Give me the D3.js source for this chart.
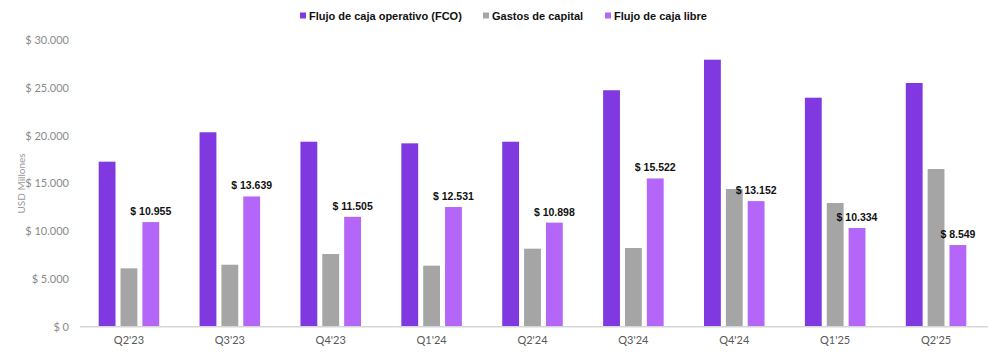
<!DOCTYPE html>
<html>
<head>
<meta charset="utf-8">
<script src="https://cdn.jsdelivr.net/npm/d3@7"></script>
<style>
  body { margin: 0; background: #fff; }
</style>
</head>
<body>
<svg id="chart" width="1000" height="354"></svg>
<script>
var quarters = ["Q2'23", "Q3'23", "Q4'23", "Q1'24", "Q2'24", "Q3'24", "Q4'24", "Q1'25", "Q2'25"];
var fco   = [17280, 20360, 19370, 19200, 19370, 24760, 27960, 23980, 25520];
var capex = [6110, 6490, 7610, 6390, 8170, 8240, 14420, 12950, 16510];
var fcf   = [10955, 13639, 11505, 12531, 10898, 15522, 13152, 10334, 8549];
var yTicks = [0, 5000, 10000, 15000, 20000, 25000, 30000];

var series = [
  {name: "Flujo de caja operativo (FCO)", values: fco, color: "#8038E0"},
  {name: "Gastos de capital", values: capex, color: "#A5A5A5"},
  {name: "Flujo de caja libre", values: fcf, color: "#B366F7"}
];

var svg = d3.select("#chart");
var fmt = d3.formatLocale({decimal: ",", thousands: ".", grouping: [3], currency: ["$ ", ""]}).format("$,.0f");

var x0 = d3.scaleBand().domain(quarters).range([78.5, 986.5]).paddingInner(0.4).paddingOuter(0.2);
var x1 = d3.scaleBand().domain(series.map(s => s.name)).range([0, x0.bandwidth()]).paddingInner(0.23);
var y = d3.scaleLinear().domain([0, 30000]).range([326.7, 40.2]);

// y ticks
svg.append("g").selectAll("text").data(yTicks).enter().append("text")
  .attr("x", 69).attr("y", d => y(d)).attr("dy", "0.35em")
  .attr("text-anchor", "end")
  .attr("font-family", "Lato, 'Open Sans', sans-serif").attr("font-size", 11)
  .attr("fill", "#8a8a8a")
  .text(d => fmt(d));

svg.append("text")
  .attr("transform", "translate(25," + y(15000) + ") rotate(-90)")
  .attr("text-anchor", "middle")
  .attr("font-family", "Lato, 'Open Sans', sans-serif").attr("font-size", 10)
  .attr("fill", "#9a9a9a")
  .text("USD Millones");

// bars
var groups = svg.append("g").selectAll("g").data(quarters).enter().append("g")
  .attr("transform", d => "translate(" + x0(d) + ",0)");

groups.selectAll("rect").data((d, i) => series.map(s => ({s: s, v: s.values[i]})))
  .enter().append("rect")
  .attr("x", d => x1(d.s.name))
  .attr("width", x1.bandwidth())
  .attr("y", d => y(d.v))
  .attr("height", d => y(0) - y(d.v))
  .attr("fill", d => d.s.color);

// axis line
svg.append("line")
  .attr("x1", 80).attr("x2", 988).attr("y1", y(0)).attr("y2", y(0))
  .attr("stroke", "#d6d6d6").attr("stroke-width", 1.5);

// x labels
svg.append("g").selectAll("text").data(quarters).enter().append("text")
  .attr("x", d => x0(d) + x0.bandwidth() / 2).attr("y", 344)
  .attr("text-anchor", "middle")
  .attr("font-family", "Lato, 'Open Sans', sans-serif").attr("font-size", 11)
  .attr("fill", "#595959")
  .text(d => d);

// data labels on free cash flow
svg.append("g").selectAll("text").data(fcf).enter().append("text")
  .attr("x", (d, i) => x0(quarters[i]) + x1(series[2].name) + x1.bandwidth() / 2)
  .attr("y", d => y(d) - 7)
  .attr("text-anchor", "middle")
  .attr("font-family", "'Liberation Sans', Arial, sans-serif").attr("font-size", 10.5)
  .attr("font-weight", "bold").attr("fill", "#111")
  .text(d => fmt(d));

// legend
var legX = [300, 483, 605];
var leg = svg.append("g").selectAll("g").data(series).enter().append("g")
  .attr("transform", (d, i) => "translate(" + legX[i] + ",16)");
leg.append("rect").attr("x", 0).attr("y", -3.5).attr("width", 6).attr("height", 6).attr("fill", d => d.color);
leg.append("text").attr("x", 9).attr("y", 0).attr("dy", "0.35em")
  .attr("font-family", "'Liberation Sans', Arial, sans-serif").attr("font-size", 11)
  .attr("font-weight", "bold").attr("fill", "#111")
  .text(d => d.name);
</script>
</body>
</html>
